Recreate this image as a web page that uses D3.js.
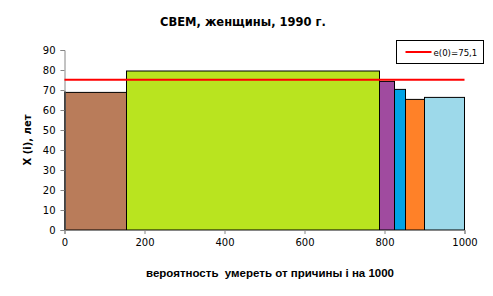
<!DOCTYPE html>
<html>
<head>
<meta charset="utf-8">
<script src="https://cdn.jsdelivr.net/npm/d3@7"></script>
<style>
  body { margin: 0; background: #fff; }
  svg { display: block; }
</style>
</head>
<body>
<div id="chart"></div>
<script>
// widths of each cause (probability per 1000) and the X(i) heights
const causes = ["c0", "c1", "c2", "c3", "c4", "c5", "c6"];
const probs = [2, 153, 632.5, 37.5, 27.5, 47.5, 100];
const ages = [69, 68.8, 79.5, 74.3, 70.3, 65.3, 66.3];
const colors = ["#000000", "#B97C5A", "#B9E41F", "#A04B9F", "#00A3E6", "#FF8128", "#9DD9EA"];
const e0 = 75.1;
const xTicks = [0, 200, 400, 600, 800, 1000];
const yTicks = [0, 10, 20, 30, 40, 50, 60, 70, 80, 90];

const width = 493, height = 296;
const margin = { left: 64.5, right: 28.5, top: 50, bottom: 66 };

const svg = d3.select("#chart").append("svg")
  .attr("width", width).attr("height", height);

const x = d3.scaleLinear().domain([0, 1000]).range([margin.left, width - margin.right]);
const y = d3.scaleLinear().domain([0, 90]).range([height - margin.bottom, margin.top]);

// cumulative start positions
let acc = 0;
const bars = probs.map((p, i) => {
  const b = { name: causes[i], x0: acc, x1: acc + p, v: ages[i], c: colors[i] };
  acc += p;
  return b;
});

svg.append("g")
  .selectAll("rect")
  .data(bars)
  .join("rect")
    .attr("x", d => x(d.x0))
    .attr("width", d => x(d.x1) - x(d.x0))
    .attr("y", d => y(d.v))
    .attr("height", d => y(0) - y(d.v))
    .attr("fill", d => d.c)
    .attr("stroke", "#000")
    .attr("stroke-width", 1);

// axes
const axisColor = "#868686";
const gx = svg.append("g")
  .attr("transform", `translate(0,${y(0)})`)
  .call(d3.axisBottom(x).tickValues(xTicks).tickSize(4).tickPadding(5).tickFormat(d3.format("d")));
const gy = svg.append("g")
  .attr("transform", `translate(${x(0)},0)`)
  .call(d3.axisLeft(y).tickValues(yTicks).tickSize(4).tickPadding(5));

[gx, gy].forEach(g => {
  g.selectAll("path, line").attr("stroke", axisColor);
  g.selectAll("text")
    .attr("fill", "#000")
    .style("font-family", "DejaVu Sans, Verdana, sans-serif")
    .style("font-size", "10px");
});

// e(0) line
svg.append("line")
  .attr("x1", x(0)).attr("x2", x(1000))
  .attr("y1", y(e0)).attr("y2", y(e0))
  .attr("stroke", "#FF0000")
  .attr("stroke-width", 2);

// title
svg.append("text")
  .attr("x", 243).attr("y", 26)
  .attr("text-anchor", "middle")
  .style("font-family", "DejaVu Sans, Verdana, sans-serif")
  .style("font-size", "11.5px")
  .style("font-weight", "bold")
  .text("СВЕМ, женщины, 1990 г.");

// axis titles
svg.append("text")
  .attr("transform", `translate(31,${(y(0) + y(90)) / 2}) rotate(-90)`)
  .attr("text-anchor", "middle")
  .style("font-family", "DejaVu Sans, Verdana, sans-serif")
  .style("font-size", "10px")
  .style("font-weight", "bold")
  .text("X (i), лет");

svg.append("text")
  .attr("x", 270).attr("y", 277)
  .attr("text-anchor", "middle")
  .style("font-family", "Liberation Sans, Arial, sans-serif")
  .style("font-size", "11.5px")
  .style("font-weight", "bold")
  .style("white-space", "pre")
  .text("вероятность  умереть от причины i на 1000");

// legend
const lg = svg.append("g").attr("transform", "translate(396.5,40.5)");
lg.append("rect")
  .attr("width", 87).attr("height", 23)
  .attr("fill", "#fff").attr("stroke", "#000");
lg.append("line")
  .attr("x1", 9).attr("x2", 35).attr("y1", 11.5).attr("y2", 11.5)
  .attr("stroke", "#FF0000").attr("stroke-width", 2);
lg.append("text")
  .attr("x", 37).attr("y", 15)
  .style("font-family", "DejaVu Sans, Verdana, sans-serif")
  .style("font-size", "8.6px")
  .text("e(0)=75,1");
</script>
</body>
</html>
